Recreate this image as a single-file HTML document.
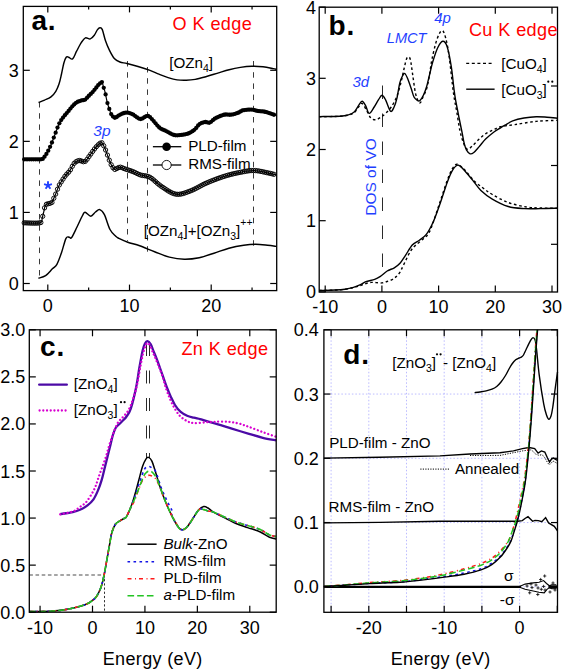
<!DOCTYPE html>
<html><head><meta charset="utf-8"><style>
html,body{margin:0;padding:0;background:#fff;}
svg{display:block;}
text{font-family:"Liberation Sans",sans-serif;}
</style></head><body>
<svg width="562" height="669" viewBox="0 0 562 669">
<rect width="562" height="669" fill="#fff"/>
<line x1="39.5" y1="102" x2="39.5" y2="279" stroke="#3a3a3a" stroke-width="1.0" stroke-dasharray="5.5,5.7" />
<line x1="127.5" y1="61" x2="127.5" y2="241" stroke="#3a3a3a" stroke-width="1.0" stroke-dasharray="5.5,5.7" />
<line x1="147.5" y1="67" x2="147.5" y2="254" stroke="#3a3a3a" stroke-width="1.0" stroke-dasharray="5.5,5.7" />
<line x1="253.5" y1="61" x2="253.5" y2="249" stroke="#3a3a3a" stroke-width="1.0" stroke-dasharray="5.5,5.7" />
<path d="M38.5,102.5 C39.52,102.1 42.52,101.03 44.6,100.1 C46.68,99.17 49.13,98.37 51,96.9 C52.87,95.43 54.47,93.43 55.8,91.3 C57.13,89.17 58.07,86.9 59,84.1 C59.93,81.3 60.6,77.98 61.4,74.5 C62.2,71.02 63,66.08 63.8,63.2 C64.6,60.32 65.4,58.2 66.2,57.2 C67,56.2 67.53,56.92 68.6,57.2 C69.67,57.48 71.27,59.9 72.6,58.9 C73.93,57.9 75.13,53.95 76.6,51.2 C78.07,48.45 79.93,44.62 81.4,42.4 C82.87,40.18 83.92,38.48 85.4,37.9 C86.88,37.32 88.82,39.35 90.3,38.9 C91.78,38.45 93.1,36.75 94.3,35.2 C95.5,33.65 96.57,30.85 97.5,29.6 C98.43,28.35 99.1,27.7 99.9,27.7 C100.7,27.7 101.37,27.42 102.3,29.6 C103.23,31.78 104.3,37.33 105.5,40.8 C106.7,44.27 108.03,47.47 109.5,50.4 C110.97,53.33 112.57,56.47 114.3,58.4 C116.03,60.33 117.78,61.15 119.9,62 C122.02,62.85 123.98,62.75 127,63.5 C130.02,64.25 134.17,65.35 138,66.5 C141.83,67.65 146.5,69.12 150,70.4 C153.5,71.68 155.98,73 159,74.2 C162.02,75.4 165.08,76.65 168.1,77.6 C171.12,78.55 174.08,79.45 177.1,79.9 C180.12,80.35 183.18,80.38 186.2,80.3 C189.22,80.22 191.82,80.03 195.2,79.4 C198.58,78.77 202.73,77.55 206.5,76.5 C210.27,75.45 214.03,74.23 217.8,73.1 C221.57,71.97 225.33,70.65 229.1,69.7 C232.87,68.75 236.63,67.97 240.4,67.4 C244.17,66.83 247.93,66.4 251.7,66.3 C255.47,66.2 259.42,66.42 263,66.8 C266.58,67.18 270.92,68.17 273.2,68.6 C275.48,69.03 276.12,69.27 276.7,69.4" fill="none" stroke="#000" stroke-width="1.45" />
<path d="M23.3,159.3 C26.18,159.3 37.32,159.43 40.6,159.3 C43.88,159.17 41.93,159.57 43,158.5 C44.07,157.43 45.67,155.18 47,152.9 C48.33,150.62 49.67,147.88 51,144.8 C52.33,141.72 53.67,137.87 55,134.4 C56.33,130.93 57.67,126.8 59,124 C60.33,121.2 61.33,119.87 63,117.6 C64.67,115.33 67.4,112.33 69,110.4 C70.6,108.47 71.35,107.32 72.6,106 C73.85,104.68 75.1,103.4 76.5,102.5 C77.9,101.6 79.58,101.07 81,100.6 C82.42,100.13 83.83,100.35 85,99.7 C86.17,99.05 86.75,97.95 88,96.7 C89.25,95.45 91.13,93.7 92.5,92.2 C93.87,90.7 95.2,88.95 96.2,87.7 C97.2,86.45 97.63,85.58 98.5,84.7 C99.37,83.82 100.78,82.75 101.4,82.4 C102.02,82.05 101.82,81.72 102.2,82.6 C102.58,83.48 103.2,86.03 103.7,87.7 C104.2,89.37 104.7,90.55 105.2,92.6 C105.7,94.65 106.2,97.82 106.7,100 C107.2,102.18 107.65,103.88 108.2,105.7 C108.75,107.52 109.45,109.42 110,110.9 C110.55,112.38 110.68,113.45 111.5,114.6 C112.32,115.75 113.55,117.73 114.9,117.8 C116.25,117.87 117.75,115.87 119.6,115 C121.45,114.13 123.87,112.73 126,112.6 C128.13,112.47 130,113.13 132.4,114.2 C134.8,115.27 137.87,118.73 140.4,119 C142.93,119.27 145.47,115.53 147.6,115.8 C149.73,116.07 151.2,118.6 153.2,120.6 C155.2,122.6 157.47,126.07 159.6,127.8 C161.73,129.53 163.6,129.8 166,131 C168.4,132.2 171.6,134.33 174,135 C176.4,135.67 177.98,135.27 180.4,135 C182.82,134.73 186.08,134.33 188.5,133.4 C190.92,132.47 193.08,130.93 194.9,129.4 C196.72,127.87 197.68,125.43 199.4,124.2 C201.12,122.97 203.5,122.25 205.2,122 C206.9,121.75 207.9,123.32 209.6,122.7 C211.3,122.08 212.97,119.63 215.4,118.3 C217.83,116.97 221.52,115.3 224.2,114.7 C226.88,114.1 229.07,115.07 231.5,114.7 C233.93,114.33 236.87,113.23 238.8,112.5 C240.73,111.77 240.92,110.78 243.1,110.3 C245.28,109.82 249.47,109.48 251.9,109.6 C254.33,109.72 255.52,110.63 257.7,111 C259.88,111.37 262.32,111.18 265,111.8 C267.68,112.42 271.85,114.1 273.8,114.7 C275.75,115.3 276.22,115.28 276.7,115.4" fill="none" stroke="#000" stroke-width="1.2" />
<circle cx="24.2" cy="159.3" r="2.15" fill="#000"/>
<circle cx="26.05" cy="159.31" r="2.15" fill="#000"/>
<circle cx="27.9" cy="159.33" r="2.15" fill="#000"/>
<circle cx="29.75" cy="159.34" r="2.15" fill="#000"/>
<circle cx="31.6" cy="159.35" r="2.15" fill="#000"/>
<circle cx="33.45" cy="159.36" r="2.15" fill="#000"/>
<circle cx="35.3" cy="159.36" r="2.15" fill="#000"/>
<circle cx="37.15" cy="159.35" r="2.15" fill="#000"/>
<circle cx="39" cy="159.34" r="2.15" fill="#000"/>
<circle cx="40.85" cy="159.29" r="2.15" fill="#000"/>
<circle cx="42.7" cy="158.89" r="2.15" fill="#000"/>
<circle cx="44.55" cy="156.64" r="2.15" fill="#000"/>
<circle cx="46.4" cy="153.89" r="2.15" fill="#000"/>
<circle cx="48.25" cy="150.63" r="2.15" fill="#000"/>
<circle cx="50.1" cy="146.83" r="2.15" fill="#000"/>
<circle cx="51.95" cy="142.49" r="2.15" fill="#000"/>
<circle cx="53.8" cy="137.59" r="2.15" fill="#000"/>
<circle cx="55.65" cy="132.67" r="2.15" fill="#000"/>
<circle cx="57.5" cy="127.61" r="2.15" fill="#000"/>
<circle cx="59.35" cy="123.28" r="2.15" fill="#000"/>
<circle cx="61.2" cy="120.11" r="2.15" fill="#000"/>
<circle cx="63.05" cy="117.53" r="2.15" fill="#000"/>
<circle cx="64.9" cy="115.2" r="2.15" fill="#000"/>
<circle cx="66.75" cy="113.03" r="2.15" fill="#000"/>
<circle cx="68.6" cy="110.88" r="2.15" fill="#000"/>
<circle cx="70.45" cy="108.59" r="2.15" fill="#000"/>
<circle cx="72.3" cy="106.32" r="2.15" fill="#000"/>
<circle cx="74.15" cy="104.42" r="2.15" fill="#000"/>
<circle cx="76" cy="102.84" r="2.15" fill="#000"/>
<circle cx="77.85" cy="101.77" r="2.15" fill="#000"/>
<circle cx="79.7" cy="101.04" r="2.15" fill="#000"/>
<circle cx="81.55" cy="100.45" r="2.15" fill="#000"/>
<circle cx="83.4" cy="100.18" r="2.15" fill="#000"/>
<circle cx="85.25" cy="99.55" r="2.15" fill="#000"/>
<circle cx="87.1" cy="97.68" r="2.15" fill="#000"/>
<circle cx="88.95" cy="95.77" r="2.15" fill="#000"/>
<circle cx="90.8" cy="93.96" r="2.15" fill="#000"/>
<circle cx="92.65" cy="92.03" r="2.15" fill="#000"/>
<circle cx="94.5" cy="89.84" r="2.15" fill="#000"/>
<circle cx="96.35" cy="87.51" r="2.15" fill="#000"/>
<circle cx="98.2" cy="85.03" r="2.15" fill="#000"/>
<circle cx="100.05" cy="83.35" r="2.15" fill="#000"/>
<circle cx="101.9" cy="82.04" r="2.15" fill="#000"/>
<circle cx="103.75" cy="87.86" r="2.15" fill="#000"/>
<circle cx="105.6" cy="94.44" r="2.15" fill="#000"/>
<circle cx="107.45" cy="103.06" r="2.15" fill="#000"/>
<circle cx="109.3" cy="108.99" r="2.15" fill="#000"/>
<circle cx="111.15" cy="114.04" r="2.15" fill="#000"/>
<circle cx="113" cy="116.61" r="2.15" fill="#000"/>
<circle cx="114.85" cy="117.79" r="2.15" fill="#000"/>
<circle cx="116.7" cy="117.02" r="2.15" fill="#000"/>
<circle cx="118.55" cy="115.62" r="2.15" fill="#000"/>
<circle cx="120.4" cy="114.61" r="2.15" fill="#000"/>
<circle cx="122.25" cy="113.72" r="2.15" fill="#000"/>
<circle cx="124.1" cy="112.99" r="2.15" fill="#000"/>
<circle cx="125.95" cy="112.61" r="2.15" fill="#000"/>
<circle cx="127.8" cy="112.68" r="2.15" fill="#000"/>
<circle cx="129.65" cy="113.11" r="2.15" fill="#000"/>
<circle cx="131.5" cy="113.81" r="2.15" fill="#000"/>
<circle cx="133.35" cy="114.72" r="2.15" fill="#000"/>
<circle cx="135.2" cy="116.03" r="2.15" fill="#000"/>
<circle cx="137.05" cy="117.41" r="2.15" fill="#000"/>
<circle cx="138.9" cy="118.53" r="2.15" fill="#000"/>
<circle cx="140.75" cy="118.99" r="2.15" fill="#000"/>
<circle cx="142.6" cy="118.41" r="2.15" fill="#000"/>
<circle cx="144.45" cy="117.19" r="2.15" fill="#000"/>
<circle cx="146.3" cy="116.06" r="2.15" fill="#000"/>
<circle cx="148.15" cy="115.92" r="2.15" fill="#000"/>
<circle cx="150" cy="117.11" r="2.15" fill="#000"/>
<circle cx="151.85" cy="119.12" r="2.15" fill="#000"/>
<circle cx="153.7" cy="121.12" r="2.15" fill="#000"/>
<circle cx="155.55" cy="123.31" r="2.15" fill="#000"/>
<circle cx="157.4" cy="125.56" r="2.15" fill="#000"/>
<circle cx="159.25" cy="127.49" r="2.15" fill="#000"/>
<circle cx="161.1" cy="128.83" r="2.15" fill="#000"/>
<circle cx="162.95" cy="129.7" r="2.15" fill="#000"/>
<circle cx="164.8" cy="130.45" r="2.15" fill="#000"/>
<circle cx="166.65" cy="131.34" r="2.15" fill="#000"/>
<circle cx="168.5" cy="132.36" r="2.15" fill="#000"/>
<circle cx="170.35" cy="133.39" r="2.15" fill="#000"/>
<circle cx="172.2" cy="134.32" r="2.15" fill="#000"/>
<circle cx="174.05" cy="135.01" r="2.15" fill="#000"/>
<circle cx="175.9" cy="135.33" r="2.15" fill="#000"/>
<circle cx="177.75" cy="135.31" r="2.15" fill="#000"/>
<circle cx="179.6" cy="135.1" r="2.15" fill="#000"/>
<circle cx="181.45" cy="134.88" r="2.15" fill="#000"/>
<circle cx="183.3" cy="134.63" r="2.15" fill="#000"/>
<circle cx="185.15" cy="134.32" r="2.15" fill="#000"/>
<circle cx="187" cy="133.89" r="2.15" fill="#000"/>
<circle cx="188.85" cy="133.26" r="2.15" fill="#000"/>
<circle cx="190.7" cy="132.36" r="2.15" fill="#000"/>
<circle cx="192.55" cy="131.21" r="2.15" fill="#000"/>
<circle cx="194.4" cy="129.81" r="2.15" fill="#000"/>
<circle cx="196.25" cy="127.96" r="2.15" fill="#000"/>
<circle cx="198.1" cy="125.48" r="2.15" fill="#000"/>
<circle cx="199.95" cy="123.84" r="2.15" fill="#000"/>
<circle cx="201.8" cy="122.92" r="2.15" fill="#000"/>
<circle cx="203.65" cy="122.32" r="2.15" fill="#000"/>
<circle cx="205.5" cy="121.98" r="2.15" fill="#000"/>
<circle cx="207.35" cy="122.47" r="2.15" fill="#000"/>
<circle cx="209.2" cy="122.81" r="2.15" fill="#000"/>
<circle cx="211.05" cy="121.8" r="2.15" fill="#000"/>
<circle cx="212.9" cy="120.16" r="2.15" fill="#000"/>
<circle cx="214.75" cy="118.69" r="2.15" fill="#000"/>
<circle cx="216.6" cy="117.67" r="2.15" fill="#000"/>
<circle cx="218.45" cy="116.78" r="2.15" fill="#000"/>
<circle cx="220.3" cy="115.98" r="2.15" fill="#000"/>
<circle cx="222.15" cy="115.29" r="2.15" fill="#000"/>
<circle cx="224" cy="114.75" r="2.15" fill="#000"/>
<circle cx="225.85" cy="114.51" r="2.15" fill="#000"/>
<circle cx="227.7" cy="114.59" r="2.15" fill="#000"/>
<circle cx="229.55" cy="114.76" r="2.15" fill="#000"/>
<circle cx="231.4" cy="114.71" r="2.15" fill="#000"/>
<circle cx="233.25" cy="114.34" r="2.15" fill="#000"/>
<circle cx="235.1" cy="113.81" r="2.15" fill="#000"/>
<circle cx="236.95" cy="113.19" r="2.15" fill="#000"/>
<circle cx="238.8" cy="112.5" r="2.15" fill="#000"/>
<circle cx="240.65" cy="111.45" r="2.15" fill="#000"/>
<circle cx="242.5" cy="110.46" r="2.15" fill="#000"/>
<circle cx="244.35" cy="110.07" r="2.15" fill="#000"/>
<circle cx="246.2" cy="109.84" r="2.15" fill="#000"/>
<circle cx="248.05" cy="109.68" r="2.15" fill="#000"/>
<circle cx="249.9" cy="109.59" r="2.15" fill="#000"/>
<circle cx="251.75" cy="109.6" r="2.15" fill="#000"/>
<circle cx="253.6" cy="109.83" r="2.15" fill="#000"/>
<circle cx="255.45" cy="110.39" r="2.15" fill="#000"/>
<circle cx="257.3" cy="110.92" r="2.15" fill="#000"/>
<circle cx="259.15" cy="111.17" r="2.15" fill="#000"/>
<circle cx="261" cy="111.3" r="2.15" fill="#000"/>
<circle cx="262.85" cy="111.45" r="2.15" fill="#000"/>
<circle cx="264.7" cy="111.74" r="2.15" fill="#000"/>
<circle cx="266.55" cy="112.22" r="2.15" fill="#000"/>
<circle cx="268.4" cy="112.81" r="2.15" fill="#000"/>
<circle cx="270.25" cy="113.46" r="2.15" fill="#000"/>
<circle cx="272.1" cy="114.12" r="2.15" fill="#000"/>
<circle cx="273.95" cy="114.75" r="2.15" fill="#000"/>
<path d="M23.3,222.8 C26.1,222.8 36.95,223.6 40.1,222.8 C43.25,222 41.58,219.87 42.2,218 C42.82,216.13 43.27,213.73 43.8,211.6 C44.33,209.47 44.6,206.53 45.4,205.2 C46.2,203.87 47.53,204.03 48.6,203.6 C49.67,203.17 50.9,203.57 51.8,202.6 C52.7,201.63 53.28,199.4 54,197.8 C54.72,196.2 55.3,194.97 56.1,193 C56.9,191.03 57.82,188.05 58.8,186 C59.78,183.95 60.85,182.48 62,180.7 C63.15,178.92 64.37,177 65.7,175.3 C67.03,173.6 68.58,172.5 70,170.5 C71.42,168.5 72.68,164.97 74.2,163.3 C75.72,161.63 77.35,160.77 79.1,160.5 C80.85,160.23 83.1,162.3 84.7,161.7 C86.3,161.1 87.82,157.98 88.7,156.9 C89.58,155.82 89.17,156.35 90,155.2 C90.83,154.05 92.45,151.62 93.7,150 C94.95,148.38 96.25,146.73 97.5,145.5 C98.75,144.27 100.28,142.77 101.2,142.6 C102.12,142.43 102.37,143.52 103,144.5 C103.63,145.48 104.3,146.85 105,148.5 C105.7,150.15 106.47,152.42 107.2,154.4 C107.93,156.38 108.65,158.52 109.4,160.4 C110.15,162.28 110.82,164.2 111.7,165.7 C112.58,167.2 113.7,169.03 114.7,169.4 C115.7,169.77 116.7,168.27 117.7,167.9 C118.7,167.53 119.58,167.07 120.7,167.2 C121.82,167.33 123.03,168.2 124.4,168.7 C125.77,169.2 127.3,169.65 128.9,170.2 C130.5,170.75 132.07,171.2 134,172 C135.93,172.8 137.83,174.12 140.5,175 C143.17,175.88 146.53,175.42 150,177.3 C153.47,179.18 156.97,183.48 161.3,186.3 C165.63,189.12 171.1,193.45 176,194.2 C180.9,194.95 185.62,192.67 190.7,190.8 C195.78,188.93 200.85,185.43 206.5,183 C212.15,180.57 218.95,177.98 224.6,176.2 C230.25,174.42 235.5,173.25 240.4,172.3 C245.3,171.35 249.48,170.42 254,170.5 C258.52,170.58 263.72,172.05 267.5,172.8 C271.28,173.55 275.17,174.63 276.7,175" fill="none" stroke="#000" stroke-width="1.2" />
<circle cx="24.2" cy="222.82" r="2.15" fill="none" stroke="#000" stroke-width="0.95"/>
<circle cx="26.05" cy="222.89" r="2.15" fill="none" stroke="#000" stroke-width="0.95"/>
<circle cx="27.9" cy="222.97" r="2.15" fill="none" stroke="#000" stroke-width="0.95"/>
<circle cx="29.75" cy="223.04" r="2.15" fill="none" stroke="#000" stroke-width="0.95"/>
<circle cx="31.6" cy="223.1" r="2.15" fill="none" stroke="#000" stroke-width="0.95"/>
<circle cx="33.45" cy="223.14" r="2.15" fill="none" stroke="#000" stroke-width="0.95"/>
<circle cx="35.3" cy="223.15" r="2.15" fill="none" stroke="#000" stroke-width="0.95"/>
<circle cx="37.15" cy="223.11" r="2.15" fill="none" stroke="#000" stroke-width="0.95"/>
<circle cx="39" cy="222.98" r="2.15" fill="none" stroke="#000" stroke-width="0.95"/>
<circle cx="40.85" cy="222.54" r="2.15" fill="none" stroke="#000" stroke-width="0.95"/>
<circle cx="42.7" cy="216.26" r="2.15" fill="none" stroke="#000" stroke-width="0.95"/>
<circle cx="44.55" cy="207.86" r="2.15" fill="none" stroke="#000" stroke-width="0.95"/>
<circle cx="46.4" cy="204.26" r="2.15" fill="none" stroke="#000" stroke-width="0.95"/>
<circle cx="48.25" cy="203.72" r="2.15" fill="none" stroke="#000" stroke-width="0.95"/>
<circle cx="50.1" cy="203.32" r="2.15" fill="none" stroke="#000" stroke-width="0.95"/>
<circle cx="51.95" cy="202.42" r="2.15" fill="none" stroke="#000" stroke-width="0.95"/>
<circle cx="53.8" cy="198.27" r="2.15" fill="none" stroke="#000" stroke-width="0.95"/>
<circle cx="55.65" cy="194.08" r="2.15" fill="none" stroke="#000" stroke-width="0.95"/>
<circle cx="57.5" cy="189.21" r="2.15" fill="none" stroke="#000" stroke-width="0.95"/>
<circle cx="59.35" cy="184.93" r="2.15" fill="none" stroke="#000" stroke-width="0.95"/>
<circle cx="61.2" cy="181.92" r="2.15" fill="none" stroke="#000" stroke-width="0.95"/>
<circle cx="63.05" cy="179.08" r="2.15" fill="none" stroke="#000" stroke-width="0.95"/>
<circle cx="64.9" cy="176.36" r="2.15" fill="none" stroke="#000" stroke-width="0.95"/>
<circle cx="66.75" cy="174.1" r="2.15" fill="none" stroke="#000" stroke-width="0.95"/>
<circle cx="68.6" cy="172.2" r="2.15" fill="none" stroke="#000" stroke-width="0.95"/>
<circle cx="70.45" cy="169.8" r="2.15" fill="none" stroke="#000" stroke-width="0.95"/>
<circle cx="72.3" cy="166.31" r="2.15" fill="none" stroke="#000" stroke-width="0.95"/>
<circle cx="74.15" cy="163.36" r="2.15" fill="none" stroke="#000" stroke-width="0.95"/>
<circle cx="76" cy="161.73" r="2.15" fill="none" stroke="#000" stroke-width="0.95"/>
<circle cx="77.85" cy="160.8" r="2.15" fill="none" stroke="#000" stroke-width="0.95"/>
<circle cx="79.7" cy="160.5" r="2.15" fill="none" stroke="#000" stroke-width="0.95"/>
<circle cx="81.55" cy="161.06" r="2.15" fill="none" stroke="#000" stroke-width="0.95"/>
<circle cx="83.4" cy="161.73" r="2.15" fill="none" stroke="#000" stroke-width="0.95"/>
<circle cx="85.25" cy="161.39" r="2.15" fill="none" stroke="#000" stroke-width="0.95"/>
<circle cx="87.1" cy="159.29" r="2.15" fill="none" stroke="#000" stroke-width="0.95"/>
<circle cx="88.95" cy="156.59" r="2.15" fill="none" stroke="#000" stroke-width="0.95"/>
<circle cx="90.8" cy="154.06" r="2.15" fill="none" stroke="#000" stroke-width="0.95"/>
<circle cx="92.65" cy="151.42" r="2.15" fill="none" stroke="#000" stroke-width="0.95"/>
<circle cx="94.5" cy="148.97" r="2.15" fill="none" stroke="#000" stroke-width="0.95"/>
<circle cx="96.35" cy="146.73" r="2.15" fill="none" stroke="#000" stroke-width="0.95"/>
<circle cx="98.2" cy="144.82" r="2.15" fill="none" stroke="#000" stroke-width="0.95"/>
<circle cx="100.05" cy="143.2" r="2.15" fill="none" stroke="#000" stroke-width="0.95"/>
<circle cx="101.9" cy="142.78" r="2.15" fill="none" stroke="#000" stroke-width="0.95"/>
<circle cx="103.75" cy="145.81" r="2.15" fill="none" stroke="#000" stroke-width="0.95"/>
<circle cx="105.6" cy="150.01" r="2.15" fill="none" stroke="#000" stroke-width="0.95"/>
<circle cx="107.45" cy="155.08" r="2.15" fill="none" stroke="#000" stroke-width="0.95"/>
<circle cx="109.3" cy="160.15" r="2.15" fill="none" stroke="#000" stroke-width="0.95"/>
<circle cx="111.15" cy="164.66" r="2.15" fill="none" stroke="#000" stroke-width="0.95"/>
<circle cx="113" cy="167.76" r="2.15" fill="none" stroke="#000" stroke-width="0.95"/>
<circle cx="114.85" cy="169.43" r="2.15" fill="none" stroke="#000" stroke-width="0.95"/>
<circle cx="116.7" cy="168.53" r="2.15" fill="none" stroke="#000" stroke-width="0.95"/>
<circle cx="118.55" cy="167.57" r="2.15" fill="none" stroke="#000" stroke-width="0.95"/>
<circle cx="120.4" cy="167.18" r="2.15" fill="none" stroke="#000" stroke-width="0.95"/>
<circle cx="122.25" cy="167.72" r="2.15" fill="none" stroke="#000" stroke-width="0.95"/>
<circle cx="124.1" cy="168.58" r="2.15" fill="none" stroke="#000" stroke-width="0.95"/>
<circle cx="125.95" cy="169.23" r="2.15" fill="none" stroke="#000" stroke-width="0.95"/>
<circle cx="127.8" cy="169.83" r="2.15" fill="none" stroke="#000" stroke-width="0.95"/>
<circle cx="129.65" cy="170.45" r="2.15" fill="none" stroke="#000" stroke-width="0.95"/>
<circle cx="131.5" cy="171.07" r="2.15" fill="none" stroke="#000" stroke-width="0.95"/>
<circle cx="133.35" cy="171.74" r="2.15" fill="none" stroke="#000" stroke-width="0.95"/>
<circle cx="135.2" cy="172.55" r="2.15" fill="none" stroke="#000" stroke-width="0.95"/>
<circle cx="137.05" cy="173.51" r="2.15" fill="none" stroke="#000" stroke-width="0.95"/>
<circle cx="138.9" cy="174.39" r="2.15" fill="none" stroke="#000" stroke-width="0.95"/>
<circle cx="140.75" cy="175.07" r="2.15" fill="none" stroke="#000" stroke-width="0.95"/>
<circle cx="142.6" cy="175.46" r="2.15" fill="none" stroke="#000" stroke-width="0.95"/>
<circle cx="144.45" cy="175.71" r="2.15" fill="none" stroke="#000" stroke-width="0.95"/>
<circle cx="146.3" cy="176.01" r="2.15" fill="none" stroke="#000" stroke-width="0.95"/>
<circle cx="148.15" cy="176.5" r="2.15" fill="none" stroke="#000" stroke-width="0.95"/>
<circle cx="150" cy="177.3" r="2.15" fill="none" stroke="#000" stroke-width="0.95"/>
<circle cx="151.85" cy="178.51" r="2.15" fill="none" stroke="#000" stroke-width="0.95"/>
<circle cx="153.7" cy="180.01" r="2.15" fill="none" stroke="#000" stroke-width="0.95"/>
<circle cx="155.55" cy="181.65" r="2.15" fill="none" stroke="#000" stroke-width="0.95"/>
<circle cx="157.4" cy="183.29" r="2.15" fill="none" stroke="#000" stroke-width="0.95"/>
<circle cx="159.25" cy="184.82" r="2.15" fill="none" stroke="#000" stroke-width="0.95"/>
<circle cx="161.1" cy="186.16" r="2.15" fill="none" stroke="#000" stroke-width="0.95"/>
<circle cx="162.95" cy="187.4" r="2.15" fill="none" stroke="#000" stroke-width="0.95"/>
<circle cx="164.8" cy="188.66" r="2.15" fill="none" stroke="#000" stroke-width="0.95"/>
<circle cx="166.65" cy="189.89" r="2.15" fill="none" stroke="#000" stroke-width="0.95"/>
<circle cx="168.5" cy="191.06" r="2.15" fill="none" stroke="#000" stroke-width="0.95"/>
<circle cx="170.35" cy="192.11" r="2.15" fill="none" stroke="#000" stroke-width="0.95"/>
<circle cx="172.2" cy="193.02" r="2.15" fill="none" stroke="#000" stroke-width="0.95"/>
<circle cx="174.05" cy="193.72" r="2.15" fill="none" stroke="#000" stroke-width="0.95"/>
<circle cx="175.9" cy="194.18" r="2.15" fill="none" stroke="#000" stroke-width="0.95"/>
<circle cx="177.75" cy="194.33" r="2.15" fill="none" stroke="#000" stroke-width="0.95"/>
<circle cx="179.6" cy="194.25" r="2.15" fill="none" stroke="#000" stroke-width="0.95"/>
<circle cx="181.45" cy="193.94" r="2.15" fill="none" stroke="#000" stroke-width="0.95"/>
<circle cx="183.3" cy="193.48" r="2.15" fill="none" stroke="#000" stroke-width="0.95"/>
<circle cx="185.15" cy="192.87" r="2.15" fill="none" stroke="#000" stroke-width="0.95"/>
<circle cx="187" cy="192.2" r="2.15" fill="none" stroke="#000" stroke-width="0.95"/>
<circle cx="188.85" cy="191.5" r="2.15" fill="none" stroke="#000" stroke-width="0.95"/>
<circle cx="190.7" cy="190.8" r="2.15" fill="none" stroke="#000" stroke-width="0.95"/>
<circle cx="192.55" cy="190.05" r="2.15" fill="none" stroke="#000" stroke-width="0.95"/>
<circle cx="194.4" cy="189.19" r="2.15" fill="none" stroke="#000" stroke-width="0.95"/>
<circle cx="196.25" cy="188.25" r="2.15" fill="none" stroke="#000" stroke-width="0.95"/>
<circle cx="198.1" cy="187.27" r="2.15" fill="none" stroke="#000" stroke-width="0.95"/>
<circle cx="199.95" cy="186.27" r="2.15" fill="none" stroke="#000" stroke-width="0.95"/>
<circle cx="201.8" cy="185.28" r="2.15" fill="none" stroke="#000" stroke-width="0.95"/>
<circle cx="203.65" cy="184.33" r="2.15" fill="none" stroke="#000" stroke-width="0.95"/>
<circle cx="205.5" cy="183.45" r="2.15" fill="none" stroke="#000" stroke-width="0.95"/>
<circle cx="207.35" cy="182.64" r="2.15" fill="none" stroke="#000" stroke-width="0.95"/>
<circle cx="209.2" cy="181.86" r="2.15" fill="none" stroke="#000" stroke-width="0.95"/>
<circle cx="211.05" cy="181.11" r="2.15" fill="none" stroke="#000" stroke-width="0.95"/>
<circle cx="212.9" cy="180.38" r="2.15" fill="none" stroke="#000" stroke-width="0.95"/>
<circle cx="214.75" cy="179.66" r="2.15" fill="none" stroke="#000" stroke-width="0.95"/>
<circle cx="216.6" cy="178.97" r="2.15" fill="none" stroke="#000" stroke-width="0.95"/>
<circle cx="218.45" cy="178.29" r="2.15" fill="none" stroke="#000" stroke-width="0.95"/>
<circle cx="220.3" cy="177.63" r="2.15" fill="none" stroke="#000" stroke-width="0.95"/>
<circle cx="222.15" cy="177" r="2.15" fill="none" stroke="#000" stroke-width="0.95"/>
<circle cx="224" cy="176.39" r="2.15" fill="none" stroke="#000" stroke-width="0.95"/>
<circle cx="225.85" cy="175.81" r="2.15" fill="none" stroke="#000" stroke-width="0.95"/>
<circle cx="227.7" cy="175.27" r="2.15" fill="none" stroke="#000" stroke-width="0.95"/>
<circle cx="229.55" cy="174.76" r="2.15" fill="none" stroke="#000" stroke-width="0.95"/>
<circle cx="231.4" cy="174.28" r="2.15" fill="none" stroke="#000" stroke-width="0.95"/>
<circle cx="233.25" cy="173.83" r="2.15" fill="none" stroke="#000" stroke-width="0.95"/>
<circle cx="235.1" cy="173.4" r="2.15" fill="none" stroke="#000" stroke-width="0.95"/>
<circle cx="236.95" cy="173" r="2.15" fill="none" stroke="#000" stroke-width="0.95"/>
<circle cx="238.8" cy="172.62" r="2.15" fill="none" stroke="#000" stroke-width="0.95"/>
<circle cx="240.65" cy="172.25" r="2.15" fill="none" stroke="#000" stroke-width="0.95"/>
<circle cx="242.5" cy="171.89" r="2.15" fill="none" stroke="#000" stroke-width="0.95"/>
<circle cx="244.35" cy="171.53" r="2.15" fill="none" stroke="#000" stroke-width="0.95"/>
<circle cx="246.2" cy="171.2" r="2.15" fill="none" stroke="#000" stroke-width="0.95"/>
<circle cx="248.05" cy="170.91" r="2.15" fill="none" stroke="#000" stroke-width="0.95"/>
<circle cx="249.9" cy="170.69" r="2.15" fill="none" stroke="#000" stroke-width="0.95"/>
<circle cx="251.75" cy="170.54" r="2.15" fill="none" stroke="#000" stroke-width="0.95"/>
<circle cx="253.6" cy="170.5" r="2.15" fill="none" stroke="#000" stroke-width="0.95"/>
<circle cx="255.45" cy="170.57" r="2.15" fill="none" stroke="#000" stroke-width="0.95"/>
<circle cx="257.3" cy="170.77" r="2.15" fill="none" stroke="#000" stroke-width="0.95"/>
<circle cx="259.15" cy="171.05" r="2.15" fill="none" stroke="#000" stroke-width="0.95"/>
<circle cx="261" cy="171.4" r="2.15" fill="none" stroke="#000" stroke-width="0.95"/>
<circle cx="262.85" cy="171.79" r="2.15" fill="none" stroke="#000" stroke-width="0.95"/>
<circle cx="264.7" cy="172.2" r="2.15" fill="none" stroke="#000" stroke-width="0.95"/>
<circle cx="266.55" cy="172.6" r="2.15" fill="none" stroke="#000" stroke-width="0.95"/>
<circle cx="268.4" cy="172.98" r="2.15" fill="none" stroke="#000" stroke-width="0.95"/>
<circle cx="270.25" cy="173.39" r="2.15" fill="none" stroke="#000" stroke-width="0.95"/>
<circle cx="272.1" cy="173.83" r="2.15" fill="none" stroke="#000" stroke-width="0.95"/>
<circle cx="273.95" cy="174.3" r="2.15" fill="none" stroke="#000" stroke-width="0.95"/>
<path d="M38.4,278.3 C39.6,277.85 43.27,277.18 45.6,275.6 C47.93,274.02 50.52,270.68 52.4,268.8 C54.28,266.92 55.4,266.93 56.9,264.3 C58.4,261.67 59.88,257.33 61.4,253 C62.92,248.67 64.68,240.93 66,238.3 C67.32,235.67 68.37,237.32 69.3,237.2 C70.23,237.08 70.32,239.3 71.6,237.6 C72.88,235.9 75.18,230.68 77,227 C78.82,223.32 81.15,217.95 82.5,215.5 C83.85,213.05 83.72,212.18 85.1,212.3 C86.48,212.42 89.07,216.25 90.8,216.2 C92.53,216.15 94,213.1 95.5,212 C97,210.9 98.32,209.17 99.8,209.6 C101.28,210.03 102.7,211.28 104.4,214.6 C106.1,217.92 108.12,225.9 110,229.5 C111.88,233.1 114.22,234.72 115.7,236.2 C117.18,237.68 116.88,237.4 118.9,238.4 C120.92,239.4 124.33,240.97 127.8,242.2 C131.27,243.43 135.23,244.22 139.7,245.8 C144.17,247.38 149.65,249.82 154.6,251.7 C159.55,253.58 164.45,255.85 169.4,257.1 C174.35,258.35 179.33,259.1 184.3,259.2 C189.27,259.3 194.25,258.7 199.2,257.7 C204.15,256.7 209.05,254.78 214,253.2 C218.95,251.62 223.95,249.53 228.9,248.2 C233.85,246.87 239.25,245.85 243.7,245.2 C248.15,244.55 251.63,244.3 255.6,244.3 C259.57,244.3 263.98,244.85 267.5,245.2 C271.02,245.55 275.17,246.2 276.7,246.4" fill="none" stroke="#000" stroke-width="1.45" />
<rect x="23.3" y="6.4" width="253.4" height="284.2" fill="none" stroke="#000" stroke-width="1.3"/>
<line x1="47.8" y1="290.6" x2="47.8" y2="284.6" stroke="#000" stroke-width="1.2" />
<line x1="47.8" y1="6.4" x2="47.8" y2="12.4" stroke="#000" stroke-width="1.2" />
<line x1="129.5" y1="290.6" x2="129.5" y2="284.6" stroke="#000" stroke-width="1.2" />
<line x1="129.5" y1="6.4" x2="129.5" y2="12.4" stroke="#000" stroke-width="1.2" />
<line x1="211.2" y1="290.6" x2="211.2" y2="284.6" stroke="#000" stroke-width="1.2" />
<line x1="211.2" y1="6.4" x2="211.2" y2="12.4" stroke="#000" stroke-width="1.2" />
<line x1="88.65" y1="290.6" x2="88.65" y2="287.6" stroke="#000" stroke-width="1.2" />
<line x1="88.65" y1="6.4" x2="88.65" y2="9.4" stroke="#000" stroke-width="1.2" />
<line x1="170.35" y1="290.6" x2="170.35" y2="287.6" stroke="#000" stroke-width="1.2" />
<line x1="170.35" y1="6.4" x2="170.35" y2="9.4" stroke="#000" stroke-width="1.2" />
<line x1="252.05" y1="290.6" x2="252.05" y2="287.6" stroke="#000" stroke-width="1.2" />
<line x1="252.05" y1="6.4" x2="252.05" y2="9.4" stroke="#000" stroke-width="1.2" />
<line x1="23.3" y1="283.5" x2="29.8" y2="283.5" stroke="#000" stroke-width="1.2" />
<line x1="276.7" y1="283.5" x2="270.2" y2="283.5" stroke="#000" stroke-width="1.2" />
<text x="18.8" y="290" font-size="18" text-anchor="end" fill="#000" font-weight="normal" font-style="normal" >0</text>
<line x1="23.3" y1="212.43" x2="29.8" y2="212.43" stroke="#000" stroke-width="1.2" />
<line x1="276.7" y1="212.43" x2="270.2" y2="212.43" stroke="#000" stroke-width="1.2" />
<text x="18.8" y="218.93" font-size="18" text-anchor="end" fill="#000" font-weight="normal" font-style="normal" >1</text>
<line x1="23.3" y1="141.36" x2="29.8" y2="141.36" stroke="#000" stroke-width="1.2" />
<line x1="276.7" y1="141.36" x2="270.2" y2="141.36" stroke="#000" stroke-width="1.2" />
<text x="18.8" y="147.86" font-size="18" text-anchor="end" fill="#000" font-weight="normal" font-style="normal" >2</text>
<line x1="23.3" y1="70.29" x2="29.8" y2="70.29" stroke="#000" stroke-width="1.2" />
<line x1="276.7" y1="70.29" x2="270.2" y2="70.29" stroke="#000" stroke-width="1.2" />
<text x="18.8" y="76.79" font-size="18" text-anchor="end" fill="#000" font-weight="normal" font-style="normal" >3</text>
<text x="47.8" y="311.5" font-size="18" text-anchor="middle" fill="#000" font-weight="normal" font-style="normal" >0</text>
<text x="129.5" y="311.5" font-size="18" text-anchor="middle" fill="#000" font-weight="normal" font-style="normal" >10</text>
<text x="211.2" y="311.5" font-size="18" text-anchor="middle" fill="#000" font-weight="normal" font-style="normal" >20</text>
<text x="31.5" y="30.4" font-size="28" text-anchor="start" fill="#000" font-weight="bold" font-style="normal" letter-spacing="0.8">a.</text>
<text x="172.6" y="29.7" font-size="18.1" text-anchor="start" fill="#ff0000" font-weight="normal" font-style="normal" letter-spacing="0.4">O K edge</text>
<text x="169.2" y="67.5" font-size="15.2" text-anchor="start" fill="#000" font-weight="normal" font-style="normal" >[OZn<tspan font-size="10.5" dy="4">4</tspan><tspan dy="-4">]</tspan></text>
<text x="143.8" y="235.9" font-size="15.2" text-anchor="start" fill="#000" font-weight="normal" font-style="normal" >[OZn<tspan font-size="10.5" dy="4">4</tspan><tspan dy="-4">]+[OZn</tspan><tspan font-size="10.5" dy="4">3</tspan><tspan dy="-4">]</tspan><tspan font-size="10.5" dy="-10">++</tspan></text>
<text x="93.3" y="136.2" font-size="15.5" text-anchor="start" fill="#1f3fff" font-weight="normal" font-style="italic" >3p</text>
<g stroke="#1f3fff" stroke-width="1.9" stroke-linecap="butt"><line x1="48" y1="185.4" x2="48.00" y2="181.30"/><line x1="48" y1="185.4" x2="51.90" y2="184.13"/><line x1="48" y1="185.4" x2="50.41" y2="188.72"/><line x1="48" y1="185.4" x2="45.59" y2="188.72"/><line x1="48" y1="185.4" x2="44.10" y2="184.13"/></g>
<line x1="152.9" y1="146.7" x2="181.3" y2="146.7" stroke="#000" stroke-width="1.3" />
<circle cx="166.6" cy="146.7" r="4.3" fill="#000"/>
<text x="188.2" y="150.7" font-size="15.2" text-anchor="start" fill="#000" font-weight="normal" font-style="normal" >PLD-film</text>
<line x1="152.9" y1="165" x2="181.3" y2="165" stroke="#000" stroke-width="1.3" />
<circle cx="166.6" cy="165" r="4.6" fill="#fff" stroke="#000" stroke-width="0.9"/>
<text x="188.2" y="168.9" font-size="15.2" text-anchor="start" fill="#000" font-weight="normal" font-style="normal" >RMS-film</text>
<line x1="382.5" y1="85.5" x2="382.5" y2="268" stroke="#2a2a2a" stroke-width="1.0" stroke-dasharray="13.5,14.5" />
<path d="M319.2,116.6 C322.67,116.53 335.12,116.5 340,116.2 C344.88,115.9 346.13,115.5 348.5,114.8 C350.87,114.1 352.53,113.53 354.2,112 C355.87,110.47 357.18,107.38 358.5,105.6 C359.82,103.82 360.92,101.3 362.1,101.3 C363.28,101.3 364.42,103.58 365.6,105.6 C366.78,107.62 367.77,113.17 369.2,113.4 C370.63,113.63 372.67,109.25 374.2,107 C375.73,104.75 377.1,101.85 378.4,99.9 C379.7,97.95 380.8,95.3 382,95.3 C383.2,95.3 384.18,97.25 385.6,99.9 C387.02,102.55 389.08,110.02 390.5,111.2 C391.92,112.38 393.03,109.13 394.1,107 C395.17,104.87 395.95,102.43 396.9,98.4 C397.85,94.37 398.85,86.58 399.8,82.8 C400.75,79.02 401.77,77.25 402.6,75.7 C403.43,74.15 403.97,73.03 404.8,73.5 C405.63,73.97 406.53,76 407.6,78.5 C408.67,81 410.13,85.42 411.2,88.5 C412.27,91.58 412.93,94.98 414,97 C415.07,99.02 416.6,100.02 417.6,100.6 C418.6,101.18 419.02,101.43 420,100.5 C420.98,99.57 422.4,97.3 423.5,95 C424.6,92.7 425.6,90.03 426.6,86.7 C427.6,83.37 428.48,79.12 429.5,75 C430.52,70.88 431.33,66.55 432.7,62 C434.07,57.45 436.03,51.15 437.7,47.7 C439.37,44.25 441.15,41.53 442.7,41.3 C444.25,41.07 445.58,42.15 447,46.3 C448.42,50.45 450.02,58.92 451.2,66.2 C452.38,73.48 453.35,84.25 454.1,90 C454.85,95.75 455.08,97.13 455.7,100.7 C456.32,104.27 457.1,107.85 457.8,111.4 C458.5,114.95 459.18,118.45 459.9,122 C460.62,125.55 461.38,129.13 462.1,132.7 C462.82,136.27 463.48,140.55 464.2,143.4 C464.92,146.25 465.42,148.07 466.4,149.8 C467.38,151.53 468.87,153.35 470.1,153.8 C471.33,154.25 472.28,153.7 473.8,152.5 C475.32,151.3 477.23,148.83 479.2,146.6 C481.17,144.37 483.3,141.42 485.6,139.1 C487.9,136.78 490.52,134.57 493,132.7 C495.48,130.83 498.5,129.15 500.5,127.9 C502.5,126.65 502.97,126.37 505,125.2 C507.03,124.03 509.53,122.1 512.7,120.9 C515.87,119.7 520.08,118.7 524,118 C527.92,117.3 532.37,116.83 536.2,116.7 C540.03,116.57 543.45,116.95 547,117.2 C550.55,117.45 555.75,118.03 557.5,118.2" fill="none" stroke="#000" stroke-width="1.4" />
<path d="M319.2,116.8 C322.67,116.72 335.12,116.6 340,116.3 C344.88,116 346.13,115.6 348.5,115 C350.87,114.4 352.53,114.03 354.2,112.7 C355.87,111.37 357.18,108.55 358.5,107 C359.82,105.45 360.8,102.93 362.1,103.4 C363.4,103.87 364.88,107.42 366.3,109.8 C367.72,112.18 369.05,116.03 370.6,117.7 C372.15,119.37 373.82,119.93 375.6,119.8 C377.38,119.67 379.63,117.97 381.3,116.9 C382.97,115.83 383.95,115.05 385.6,113.4 C387.25,111.75 389.32,109.85 391.2,107 C393.08,104.15 395.23,100.57 396.9,96.3 C398.57,92.03 400,86.03 401.2,81.4 C402.4,76.77 403.22,72.23 404.1,68.5 C404.98,64.77 405.77,60.92 406.5,59 C407.23,57.08 407.83,56.83 408.5,57 C409.17,57.17 409.82,57.13 410.5,60 C411.18,62.87 411.78,68.75 412.6,74.2 C413.42,79.65 414.45,88.18 415.4,92.7 C416.35,97.22 417.45,99.67 418.3,101.3 C419.15,102.93 419.72,103.22 420.5,102.5 C421.28,101.78 421.98,99.28 423,97 C424.02,94.72 425.52,92.47 426.6,88.8 C427.68,85.13 428.6,79.95 429.5,75 C430.4,70.05 430.75,65.07 432,59.1 C433.25,53.13 435.33,43.95 437,39.2 C438.67,34.45 440.57,30.85 442,30.6 C443.43,30.35 444.42,33.43 445.6,37.7 C446.78,41.97 447.78,46.95 449.1,56.2 C450.42,65.45 452.23,84 453.5,93.2 C454.77,102.4 455.63,105.17 456.7,111.4 C457.77,117.63 458.73,125.27 459.9,130.6 C461.07,135.93 462.45,140.28 463.7,143.4 C464.95,146.52 465.88,148.95 467.4,149.3 C468.92,149.65 470.83,147.2 472.8,145.5 C474.77,143.8 477.07,141.05 479.2,139.1 C481.33,137.15 483.3,135.32 485.6,133.8 C487.9,132.28 490.52,131.17 493,130 C495.48,128.83 496.87,127.7 500.5,126.8 C504.13,125.9 508.85,125.5 514.8,124.6 C520.75,123.7 529.08,122.12 536.2,121.4 C543.32,120.68 553.95,120.48 557.5,120.3" fill="none" stroke="#000" stroke-width="1.4" stroke-dasharray="2.6,2.6" />
<path d="M319.2,290.4 C321.83,290.33 330.7,290.2 335,290 C339.3,289.8 341.93,289.63 345,289.2 C348.07,288.77 350.82,288.15 353.4,287.4 C355.98,286.65 358.43,285.65 360.5,284.7 C362.57,283.75 363.43,282.58 365.8,281.7 C368.17,280.82 372.33,280.23 374.7,279.4 C377.07,278.57 377.92,278.1 380,276.7 C382.08,275.3 384.82,272.48 387.2,271 C389.58,269.52 392.17,269.08 394.3,267.8 C396.43,266.52 398.13,265.38 400,263.3 C401.87,261.22 403.42,258.38 405.5,255.3 C407.58,252.22 410.18,247.32 412.5,244.8 C414.82,242.28 417.1,241.93 419.4,240.2 C421.7,238.47 423.98,237.48 426.3,234.4 C428.62,231.32 430.98,226.9 433.3,221.7 C435.62,216.5 437.88,209.75 440.2,203.2 C442.52,196.65 445.08,187.98 447.2,182.4 C449.32,176.82 451.02,172.57 452.9,169.7 C454.78,166.83 456.37,164.82 458.5,165.2 C460.63,165.58 463.35,169.52 465.7,172 C468.05,174.48 470.07,177.02 472.6,180.1 C475.13,183.18 477.62,187.33 480.9,190.5 C484.18,193.67 487.75,196.43 492.3,199.1 C496.85,201.77 502.9,204.92 508.2,206.5 C513.5,208.08 518.8,208.25 524.1,208.6 C529.4,208.95 534.43,208.67 540,208.6 C545.57,208.53 554.58,208.27 557.5,208.2" fill="none" stroke="#000" stroke-width="1.4" />
<path d="M319.2,290.5 C321.83,290.43 330.7,290.3 335,290.1 C339.3,289.9 341.93,289.72 345,289.3 C348.07,288.88 350.82,288.22 353.4,287.6 C355.98,286.98 358.4,286.28 360.5,285.6 C362.6,284.92 364.22,284.03 366,283.5 C367.78,282.97 369.53,282.55 371.2,282.4 C372.87,282.25 374.22,282.52 376,282.6 C377.78,282.68 380.07,283.08 381.9,282.9 C383.73,282.72 385.23,282.08 387,281.5 C388.77,280.92 390.95,280.23 392.5,279.4 C394.05,278.57 395.05,277.7 396.3,276.5 C397.55,275.3 398.85,274 400,272.2 C401.15,270.4 401.52,269.1 403.2,265.7 C404.88,262.3 408.17,255.08 410.1,251.8 C412.03,248.52 412.87,247.93 414.8,246 C416.73,244.07 419.38,242.32 421.7,240.2 C424.02,238.08 426.65,236.67 428.7,233.3 C430.75,229.93 432.08,225.3 434,220 C435.92,214.7 438,208.08 440.2,201.5 C442.4,194.92 445.15,186 447.2,180.5 C449.25,175 450.77,171.2 452.5,168.5 C454.23,165.8 455.4,163.88 457.6,164.3 C459.8,164.72 462.95,168.23 465.7,171 C468.45,173.77 471.22,178.07 474.1,180.9 C476.98,183.73 479.97,185.73 483,188 C486.03,190.27 488.1,192.08 492.3,194.5 C496.5,196.92 502.52,200.42 508.2,202.5 C513.88,204.58 521.1,206.08 526.4,207 C531.7,207.92 534.82,207.8 540,208 C545.18,208.2 554.58,208.17 557.5,208.2" fill="none" stroke="#000" stroke-width="1.4" stroke-dasharray="2.6,2.6" />
<rect x="319.2" y="7.2" width="238.3" height="284.8" fill="none" stroke="#000" stroke-width="1.3"/>
<line x1="325.2" y1="292" x2="325.2" y2="285.5" stroke="#000" stroke-width="1.2" />
<line x1="325.2" y1="7.2" x2="325.2" y2="13.7" stroke="#000" stroke-width="1.2" />
<line x1="381.9" y1="292" x2="381.9" y2="285.5" stroke="#000" stroke-width="1.2" />
<line x1="381.9" y1="7.2" x2="381.9" y2="13.7" stroke="#000" stroke-width="1.2" />
<line x1="438.6" y1="292" x2="438.6" y2="285.5" stroke="#000" stroke-width="1.2" />
<line x1="438.6" y1="7.2" x2="438.6" y2="13.7" stroke="#000" stroke-width="1.2" />
<line x1="495.3" y1="292" x2="495.3" y2="285.5" stroke="#000" stroke-width="1.2" />
<line x1="495.3" y1="7.2" x2="495.3" y2="13.7" stroke="#000" stroke-width="1.2" />
<line x1="552" y1="292" x2="552" y2="285.5" stroke="#000" stroke-width="1.2" />
<line x1="552" y1="7.2" x2="552" y2="13.7" stroke="#000" stroke-width="1.2" />
<line x1="319.2" y1="291.9" x2="325.7" y2="291.9" stroke="#000" stroke-width="1.2" />
<text x="316" y="298.4" font-size="18" text-anchor="end" fill="#000" font-weight="normal" font-style="normal" >0</text>
<line x1="319.2" y1="220.7" x2="325.7" y2="220.7" stroke="#000" stroke-width="1.2" />
<text x="316" y="227.2" font-size="18" text-anchor="end" fill="#000" font-weight="normal" font-style="normal" >1</text>
<line x1="319.2" y1="149.5" x2="325.7" y2="149.5" stroke="#000" stroke-width="1.2" />
<text x="316" y="156" font-size="18" text-anchor="end" fill="#000" font-weight="normal" font-style="normal" >2</text>
<line x1="319.2" y1="78.3" x2="325.7" y2="78.3" stroke="#000" stroke-width="1.2" />
<text x="316" y="84.8" font-size="18" text-anchor="end" fill="#000" font-weight="normal" font-style="normal" >3</text>
<line x1="319.2" y1="7.1" x2="325.7" y2="7.1" stroke="#000" stroke-width="1.2" />
<text x="316" y="13.6" font-size="18" text-anchor="end" fill="#000" font-weight="normal" font-style="normal" >4</text>
<line x1="557.5" y1="86" x2="551" y2="86" stroke="#000" stroke-width="1.2" />
<line x1="557.5" y1="165.5" x2="551" y2="165.5" stroke="#000" stroke-width="1.2" />
<line x1="557.5" y1="244.3" x2="551" y2="244.3" stroke="#000" stroke-width="1.2" />
<text x="325.2" y="312.6" font-size="18" text-anchor="middle" fill="#000" font-weight="normal" font-style="normal" >-10</text>
<text x="381.9" y="312.6" font-size="18" text-anchor="middle" fill="#000" font-weight="normal" font-style="normal" >0</text>
<text x="438.6" y="312.6" font-size="18" text-anchor="middle" fill="#000" font-weight="normal" font-style="normal" >10</text>
<text x="495.3" y="312.6" font-size="18" text-anchor="middle" fill="#000" font-weight="normal" font-style="normal" >20</text>
<text x="552" y="312.6" font-size="18" text-anchor="middle" fill="#000" font-weight="normal" font-style="normal" >30</text>
<text x="328.5" y="35.3" font-size="28" text-anchor="start" fill="#000" font-weight="bold" font-style="normal" letter-spacing="0.8">b.</text>
<text x="468.9" y="35.9" font-size="18.1" text-anchor="start" fill="#ff0000" font-weight="normal" font-style="normal" letter-spacing="0.4">Cu K edge</text>
<text x="352.5" y="87" font-size="15" text-anchor="start" fill="#1f3fff" font-weight="normal" font-style="italic" >3d</text>
<text x="386.8" y="43.2" font-size="14.6" text-anchor="start" fill="#1f3fff" font-weight="normal" font-style="italic" >LMCT</text>
<text x="434.2" y="22.8" font-size="15" text-anchor="start" fill="#1f3fff" font-weight="normal" font-style="italic" >4p</text>
<text x="0" y="0" font-size="15.5" text-anchor="start" fill="#1f3fff" font-weight="normal" font-style="normal" transform="translate(376.4,215.8) rotate(-90)">DOS of VO</text>
<line x1="466.2" y1="63.4" x2="492.4" y2="63.4" stroke="#000" stroke-width="1.4" stroke-dasharray="3,2.6" />
<text x="501.3" y="68.8" font-size="15.2" text-anchor="start" fill="#000" font-weight="normal" font-style="normal" >[CuO<tspan font-size="10.5" dy="4">4</tspan><tspan dy="-4">]</tspan></text>
<line x1="466.2" y1="89.2" x2="494.6" y2="89.2" stroke="#000" stroke-width="1.4" />
<text x="501.3" y="94.5" font-size="15.2" text-anchor="start" fill="#000" font-weight="normal" font-style="normal" >[CuO<tspan font-size="10.5" dy="4">3</tspan><tspan dy="-4">]</tspan></text>
<circle cx="548.3" cy="81.7" r="1.1" fill="#000"/><circle cx="552.3" cy="81.7" r="1.1" fill="#000"/>
<line x1="29.3" y1="574.9" x2="104.5" y2="574.9" stroke="#888" stroke-width="1.5" stroke-dasharray="3.6,2.6" />
<line x1="104.5" y1="574.9" x2="104.5" y2="612.2" stroke="#333" stroke-width="1.0" stroke-dasharray="2.2,2" />
<line x1="146.5" y1="343" x2="146.5" y2="458" stroke="#2a2a2a" stroke-width="1.0" stroke-dasharray="13,14.5" />
<line x1="149.5" y1="343" x2="149.5" y2="458" stroke="#2a2a2a" stroke-width="1.0" stroke-dasharray="13,14.5" />
<path d="M60.2,514.1 C62.3,513.77 69.5,512.82 72.8,512.1 C76.1,511.38 77.55,510.93 80,509.8 C82.45,508.67 85.25,507.05 87.5,505.3 C89.75,503.55 91.75,501.78 93.5,499.3 C95.25,496.82 96.63,493.63 98,490.4 C99.37,487.17 100.58,483.65 101.7,479.9 C102.82,476.15 103.7,471.9 104.7,467.9 C105.7,463.9 106.7,459.9 107.7,455.9 C108.7,451.9 109.83,447.38 110.7,443.9 C111.57,440.42 112.03,437.73 112.9,435 C113.77,432.27 114.77,429.38 115.9,427.5 C117.03,425.62 118.45,424.95 119.7,423.7 C120.95,422.45 122.27,421.2 123.4,420 C124.53,418.8 125.27,418.38 126.5,416.5 C127.73,414.62 129.18,413.62 130.8,408.7 C132.42,403.78 134.77,393.87 136.2,387 C137.63,380.13 138.32,373.63 139.4,367.5 C140.48,361.37 141.77,354.2 142.7,350.2 C143.63,346.2 144.22,345.02 145,343.5 C145.78,341.98 146.43,340.95 147.4,341.1 C148.37,341.25 149.78,342.73 150.8,344.4 C151.82,346.07 152.5,348.63 153.5,351.1 C154.5,353.57 155.68,356.28 156.8,359.2 C157.92,362.12 159.08,365.47 160.2,368.6 C161.32,371.73 162.38,374.85 163.5,378 C164.62,381.15 165.67,384.35 166.9,387.5 C168.13,390.65 169.55,393.98 170.9,396.9 C172.25,399.82 173.42,402.53 175,405 C176.58,407.47 178.38,409.92 180.4,411.7 C182.42,413.48 184.87,414.7 187.1,415.7 C189.33,416.7 191.65,417.13 193.8,417.7 C195.95,418.27 197.98,418.57 200,419.1 C202.02,419.63 202.9,420.03 205.9,420.9 C208.9,421.77 213.68,423 218,424.3 C222.32,425.6 226.63,427.12 231.8,428.7 C236.97,430.28 243.83,432.28 249,433.8 C254.17,435.32 258.27,436.72 262.8,437.8 C267.33,438.88 273.97,439.88 276.2,440.3" fill="none" stroke="#4c0aa6" stroke-width="2.3" />
<path d="M60.2,514.3 C62.3,513.83 69.5,512.75 72.8,511.5 C76.1,510.25 77.8,508.33 80,506.8 C82.2,505.27 84,504.53 86,502.3 C88,500.07 90.38,496.13 92,493.4 C93.62,490.67 94.58,488.65 95.7,485.9 C96.82,483.15 97.57,480.15 98.7,476.9 C99.83,473.65 101.25,469.9 102.5,466.4 C103.75,462.9 105.08,459.4 106.2,455.9 C107.32,452.4 108.2,448.63 109.2,445.4 C110.2,442.17 111.33,438.98 112.2,436.5 C113.07,434.02 113.4,432.88 114.4,430.5 C115.4,428.12 116.77,424.45 118.2,422.2 C119.63,419.95 121.27,419.03 123,417 C124.73,414.97 126.93,413 128.6,410 C130.27,407 131.6,403.17 133,399 C134.4,394.83 135.75,390.5 137,385 C138.25,379.5 139.33,371.83 140.5,366 C141.67,360.17 142.73,353.82 144,350 C145.27,346.18 146.52,342.47 148.1,343.1 C149.68,343.73 151.93,350.43 153.5,353.8 C155.07,357.17 156.05,359.7 157.5,363.3 C158.95,366.9 160.75,371.15 162.2,375.4 C163.65,379.65 164.85,384.77 166.2,388.8 C167.55,392.83 168.83,396.23 170.3,399.6 C171.77,402.97 173.32,406.2 175,409 C176.68,411.8 178.38,414.38 180.4,416.4 C182.42,418.42 184.87,419.98 187.1,421.1 C189.33,422.22 190.67,422.9 193.8,423.1 C196.93,423.3 202.45,422.52 205.9,422.3 C209.35,422.08 210.77,421.88 214.5,421.8 C218.23,421.72 224.27,421.52 228.3,421.8 C232.33,422.08 235.25,422.65 238.7,423.5 C242.15,424.35 244.98,425.47 249,426.9 C253.02,428.33 258.27,430.45 262.8,432.1 C267.33,433.75 273.97,436.02 276.2,436.8" fill="none" stroke="#d800d0" stroke-width="2.3" stroke-dasharray="0.01,3.7" stroke-linecap="round"/>
<path d="M29.3,611.6 C32.75,611.53 43.97,611.53 50,611.2 C56.03,610.87 59.67,610.68 65.5,609.6 C71.33,608.52 80.13,606.53 85,604.7 C89.87,602.87 92.37,600.72 94.7,598.6 C97.03,596.48 97.78,594.43 99,592 C100.22,589.57 101.08,587.17 102,584 C102.92,580.83 103.68,577.07 104.5,573 C105.32,568.93 106.07,564.27 106.9,559.6 C107.73,554.93 108.68,549.47 109.5,545 C110.32,540.53 110.82,536.25 111.8,532.8 C112.78,529.35 113.98,526.33 115.4,524.3 C116.82,522.27 118.87,521.57 120.3,520.6 C121.73,519.63 122.98,519.13 124,518.5 C125.02,517.87 125.33,518.52 126.4,516.8 C127.47,515.08 129.07,511.65 130.4,508.2 C131.73,504.75 133.05,500.58 134.4,496.1 C135.75,491.62 137.15,486.23 138.5,481.3 C139.85,476.37 141.27,470.2 142.5,466.5 C143.73,462.8 144.9,460.62 145.9,459.1 C146.9,457.58 147.5,457.07 148.5,457.4 C149.5,457.73 150.67,458.45 151.9,461.1 C153.13,463.75 154.55,469.03 155.9,473.3 C157.25,477.57 158.42,482 160,486.7 C161.58,491.4 163.38,496.57 165.4,501.5 C167.42,506.43 169.87,511.93 172.1,516.3 C174.33,520.67 177.02,525.45 178.8,527.7 C180.58,529.95 181.43,529.92 182.8,529.8 C184.17,529.68 185.55,528.52 187,527 C188.45,525.48 189.53,523.57 191.5,520.7 C193.47,517.83 196.77,512.15 198.8,509.8 C200.83,507.45 202.17,506.9 203.7,506.6 C205.23,506.3 206.38,507.07 208,508 C209.62,508.93 210.87,510.68 213.4,512.2 C215.93,513.72 219.53,515.27 223.2,517.1 C226.87,518.93 231.33,521.45 235.4,523.2 C239.47,524.95 243.53,526.18 247.6,527.6 C251.67,529.02 256.15,530.08 259.8,531.7 C263.45,533.32 266.77,536.08 269.5,537.3 C272.23,538.52 275.08,538.72 276.2,539" fill="none" stroke="#000" stroke-width="1.5" />
<path d="M29.3,611.6 C32.75,611.53 43.97,611.53 50,611.2 C56.03,610.87 59.67,610.68 65.5,609.6 C71.33,608.52 80.13,606.53 85,604.7 C89.87,602.87 92.37,600.72 94.7,598.6 C97.03,596.48 97.78,594.43 99,592 C100.22,589.57 101.08,587.17 102,584 C102.92,580.83 103.68,577.07 104.5,573 C105.32,568.93 106.07,564.27 106.9,559.6 C107.73,554.93 108.68,549.47 109.5,545 C110.32,540.53 110.82,536.25 111.8,532.8 C112.78,529.35 113.98,526.33 115.4,524.3 C116.82,522.27 118.87,521.57 120.3,520.6 C121.73,519.63 122.98,519.13 124,518.5 C125.02,517.87 125.33,518.52 126.4,516.8 C127.47,515.08 129.07,511.33 130.4,508.2 C131.73,505.07 133.05,501.8 134.4,498 C135.75,494.2 136.93,489.97 138.5,485.4 C140.07,480.83 142.47,473.63 143.8,470.6 C145.13,467.57 145.6,467.88 146.5,467.2 C147.4,466.52 148.28,466.37 149.2,466.5 C150.12,466.63 150.88,467.1 152,468 C153.12,468.9 154.35,468.57 155.9,471.9 C157.45,475.23 159.5,483.28 161.3,488 C163.1,492.72 164.9,496.38 166.7,500.2 C168.5,504.02 171.2,508.22 172.1,510.9 C173,513.58 170.98,513.5 172.1,516.3 C173.22,519.1 177.02,525.45 178.8,527.7 C180.58,529.95 181.43,529.92 182.8,529.8 C184.17,529.68 185.55,528.52 187,527 C188.45,525.48 189.53,523.57 191.5,520.7 C193.47,517.83 196.77,511.65 198.8,509.8 C200.83,507.95 202.17,509.4 203.7,509.6 C205.23,509.8 206.38,510.58 208,511 C209.62,511.42 210.87,511.21 213.4,512.12 C215.93,513.02 219.53,514.81 223.2,516.43 C226.87,518.04 231.33,520.29 235.4,521.8 C239.47,523.3 243.53,524.21 247.6,525.46 C251.67,526.71 256.15,527.73 259.8,529.3 C263.45,530.87 266.77,533.68 269.5,534.9 C272.23,536.12 275.08,536.32 276.2,536.6" fill="none" stroke="#1414e6" stroke-width="1.6" stroke-dasharray="2.6,3.4" />
<path d="M29.3,611.6 C32.75,611.53 43.97,611.53 50,611.2 C56.03,610.87 59.67,610.68 65.5,609.6 C71.33,608.52 80.13,606.53 85,604.7 C89.87,602.87 92.37,600.72 94.7,598.6 C97.03,596.48 97.78,594.43 99,592 C100.22,589.57 101.08,587.17 102,584 C102.92,580.83 103.68,577.07 104.5,573 C105.32,568.93 106.07,564.27 106.9,559.6 C107.73,554.93 108.68,549.47 109.5,545 C110.32,540.53 110.82,536.25 111.8,532.8 C112.78,529.35 113.98,526.33 115.4,524.3 C116.82,522.27 118.87,521.57 120.3,520.6 C121.73,519.63 122.98,519.13 124,518.5 C125.02,517.87 125.33,518.52 126.4,516.8 C127.47,515.08 129.07,510.83 130.4,508.2 C131.73,505.57 133.28,503.47 134.4,501 C135.52,498.53 135.75,496.9 137.1,493.4 C138.45,489.9 141.02,482.82 142.5,480 C143.98,477.18 144.88,477.28 146,476.5 C147.12,475.72 148.12,475.3 149.2,475.3 C150.28,475.3 151.15,475.5 152.5,476.5 C153.85,477.5 155.15,477.13 157.3,481.3 C159.45,485.47 162.93,495.67 165.4,501.5 C167.87,507.33 170.77,513.62 172.1,516.3 C173.43,518.98 172.28,515.7 173.4,517.6 C174.52,519.5 177.23,525.67 178.8,527.7 C180.37,529.73 181.43,529.92 182.8,529.8 C184.17,529.68 185.55,528.52 187,527 C188.45,525.48 189.53,523.57 191.5,520.7 C193.47,517.83 196.77,511.65 198.8,509.8 C200.83,507.95 202.17,509.4 203.7,509.6 C205.23,509.8 206.38,510.58 208,511 C209.62,511.42 210.87,511.21 213.4,512.12 C215.93,513.02 219.53,514.81 223.2,516.43 C226.87,518.04 231.33,520.29 235.4,521.8 C239.47,523.3 243.53,524.21 247.6,525.46 C251.67,526.71 256.15,527.73 259.8,529.3 C263.45,530.87 266.77,533.68 269.5,534.9 C272.23,536.12 275.08,536.32 276.2,536.6" fill="none" stroke="#ff1a1a" stroke-width="1.6" stroke-dasharray="4,3.5,1,3" />
<path d="M29.3,611.6 C32.75,611.53 43.97,611.53 50,611.2 C56.03,610.87 59.67,610.68 65.5,609.6 C71.33,608.52 80.13,606.53 85,604.7 C89.87,602.87 92.37,600.72 94.7,598.6 C97.03,596.48 97.78,594.43 99,592 C100.22,589.57 101.08,587.17 102,584 C102.92,580.83 103.68,577.07 104.5,573 C105.32,568.93 106.07,564.27 106.9,559.6 C107.73,554.93 108.68,549.47 109.5,545 C110.32,540.53 110.82,536.25 111.8,532.8 C112.78,529.35 113.98,526.33 115.4,524.3 C116.82,522.27 118.87,521.57 120.3,520.6 C121.73,519.63 122.98,519.13 124,518.5 C125.02,517.87 125.33,518.52 126.4,516.8 C127.47,515.08 129.07,511.08 130.4,508.2 C131.73,505.32 133.05,502.63 134.4,499.5 C135.75,496.37 136.93,493.33 138.5,489.4 C140.07,485.47 142.38,478.8 143.8,475.9 C145.22,473 145.98,472.78 147,472 C148.02,471.22 148.9,471.03 149.9,471.2 C150.9,471.37 151.77,471.53 153,473 C154.23,474.47 155.23,475.25 157.3,480 C159.37,484.75 162.93,495.45 165.4,501.5 C167.87,507.55 169.87,511.93 172.1,516.3 C174.33,520.67 177.02,525.45 178.8,527.7 C180.58,529.95 181.43,529.92 182.8,529.8 C184.17,529.68 185.55,528.52 187,527 C188.45,525.48 189.53,523.57 191.5,520.7 C193.47,517.83 196.77,511.65 198.8,509.8 C200.83,507.95 202.17,509.4 203.7,509.6 C205.23,509.8 206.38,510.58 208,511 C209.62,511.42 210.87,511.21 213.4,512.12 C215.93,513.02 219.53,514.81 223.2,516.43 C226.87,518.04 231.33,520.29 235.4,521.8 C239.47,523.3 243.53,524.21 247.6,525.46 C251.67,526.71 256.15,527.73 259.8,529.3 C263.45,530.87 266.77,533.68 269.5,534.9 C272.23,536.12 275.08,536.32 276.2,536.6" fill="none" stroke="#22c422" stroke-width="1.6" stroke-dasharray="6.6,3.1" />
<rect x="29.3" y="329.8" width="246.9" height="282.4" fill="none" stroke="#000" stroke-width="1.3"/>
<line x1="40.07" y1="612.2" x2="40.07" y2="605.7" stroke="#000" stroke-width="1.2" />
<line x1="40.07" y1="329.8" x2="40.07" y2="336.3" stroke="#000" stroke-width="1.2" />
<line x1="92.5" y1="612.2" x2="92.5" y2="605.7" stroke="#000" stroke-width="1.2" />
<line x1="92.5" y1="329.8" x2="92.5" y2="336.3" stroke="#000" stroke-width="1.2" />
<line x1="144.93" y1="612.2" x2="144.93" y2="605.7" stroke="#000" stroke-width="1.2" />
<line x1="144.93" y1="329.8" x2="144.93" y2="336.3" stroke="#000" stroke-width="1.2" />
<line x1="197.36" y1="612.2" x2="197.36" y2="605.7" stroke="#000" stroke-width="1.2" />
<line x1="197.36" y1="329.8" x2="197.36" y2="336.3" stroke="#000" stroke-width="1.2" />
<line x1="249.79" y1="612.2" x2="249.79" y2="605.7" stroke="#000" stroke-width="1.2" />
<line x1="249.79" y1="329.8" x2="249.79" y2="336.3" stroke="#000" stroke-width="1.2" />
<line x1="29.3" y1="612.2" x2="35.8" y2="612.2" stroke="#000" stroke-width="1.2" />
<line x1="276.2" y1="612.2" x2="269.7" y2="612.2" stroke="#000" stroke-width="1.2" />
<text x="25.2" y="618.7" font-size="18" text-anchor="end" fill="#000" font-weight="normal" font-style="normal" >0.0</text>
<line x1="29.3" y1="565.13" x2="35.8" y2="565.13" stroke="#000" stroke-width="1.2" />
<line x1="276.2" y1="565.13" x2="269.7" y2="565.13" stroke="#000" stroke-width="1.2" />
<text x="25.2" y="571.63" font-size="18" text-anchor="end" fill="#000" font-weight="normal" font-style="normal" >0.5</text>
<line x1="29.3" y1="518.07" x2="35.8" y2="518.07" stroke="#000" stroke-width="1.2" />
<line x1="276.2" y1="518.07" x2="269.7" y2="518.07" stroke="#000" stroke-width="1.2" />
<text x="25.2" y="524.57" font-size="18" text-anchor="end" fill="#000" font-weight="normal" font-style="normal" >1.0</text>
<line x1="29.3" y1="471.01" x2="35.8" y2="471.01" stroke="#000" stroke-width="1.2" />
<line x1="276.2" y1="471.01" x2="269.7" y2="471.01" stroke="#000" stroke-width="1.2" />
<text x="25.2" y="477.51" font-size="18" text-anchor="end" fill="#000" font-weight="normal" font-style="normal" >1.5</text>
<line x1="29.3" y1="423.94" x2="35.8" y2="423.94" stroke="#000" stroke-width="1.2" />
<line x1="276.2" y1="423.94" x2="269.7" y2="423.94" stroke="#000" stroke-width="1.2" />
<text x="25.2" y="430.44" font-size="18" text-anchor="end" fill="#000" font-weight="normal" font-style="normal" >2.0</text>
<line x1="29.3" y1="376.88" x2="35.8" y2="376.88" stroke="#000" stroke-width="1.2" />
<line x1="276.2" y1="376.88" x2="269.7" y2="376.88" stroke="#000" stroke-width="1.2" />
<text x="25.2" y="383.38" font-size="18" text-anchor="end" fill="#000" font-weight="normal" font-style="normal" >2.5</text>
<line x1="29.3" y1="329.81" x2="35.8" y2="329.81" stroke="#000" stroke-width="1.2" />
<line x1="276.2" y1="329.81" x2="269.7" y2="329.81" stroke="#000" stroke-width="1.2" />
<text x="25.2" y="336.31" font-size="18" text-anchor="end" fill="#000" font-weight="normal" font-style="normal" >3.0</text>
<text x="40.07" y="633.7" font-size="18" text-anchor="middle" fill="#000" font-weight="normal" font-style="normal" >-10</text>
<text x="92.5" y="633.7" font-size="18" text-anchor="middle" fill="#000" font-weight="normal" font-style="normal" >0</text>
<text x="144.93" y="633.7" font-size="18" text-anchor="middle" fill="#000" font-weight="normal" font-style="normal" >10</text>
<text x="197.36" y="633.7" font-size="18" text-anchor="middle" fill="#000" font-weight="normal" font-style="normal" >20</text>
<text x="249.79" y="633.7" font-size="18" text-anchor="middle" fill="#000" font-weight="normal" font-style="normal" >30</text>
<text x="152.7" y="665.2" font-size="18" text-anchor="middle" fill="#000" font-weight="normal" font-style="normal" letter-spacing="0.35">Energy (eV)</text>
<text x="40.1" y="356.4" font-size="28" text-anchor="start" fill="#000" font-weight="bold" font-style="normal" letter-spacing="0.8">c.</text>
<text x="181.4" y="355.4" font-size="18.1" text-anchor="start" fill="#ff0000" font-weight="normal" font-style="normal" letter-spacing="0.4">Zn K edge</text>
<line x1="39.2" y1="384.6" x2="66.8" y2="384.6" stroke="#4c0aa6" stroke-width="2.4" stroke-linecap="round"/>
<text x="73.8" y="389.2" font-size="15.2" text-anchor="start" fill="#000" font-weight="normal" font-style="normal" >[ZnO<tspan font-size="10.5" dy="4">4</tspan><tspan dy="-4">]</tspan></text>
<line x1="39.6" y1="410.5" x2="68" y2="410.5" stroke="#d800d0" stroke-width="2.3" stroke-dasharray="0.01,3.7" stroke-linecap="round"/>
<text x="73.8" y="415" font-size="15.2" text-anchor="start" fill="#000" font-weight="normal" font-style="normal" >[ZnO<tspan font-size="10.5" dy="4">3</tspan><tspan dy="-4">]</tspan></text>
<circle cx="121" cy="402.2" r="1.1" fill="#000"/><circle cx="124.6" cy="402.2" r="1.1" fill="#000"/>
<line x1="127.5" y1="544.2" x2="156.6" y2="544.2" stroke="#000" stroke-width="1.5" />
<text x="163.4" y="548.8" font-size="15.2" text-anchor="start" fill="#000" font-weight="normal" font-style="normal" ><tspan font-style="italic">Bulk</tspan>-ZnO</text>
<line x1="127.5" y1="561.7" x2="156.6" y2="561.7" stroke="#1414e6" stroke-width="1.6" stroke-dasharray="2.6,3.4" />
<text x="163.4" y="565.9" font-size="15.2" text-anchor="start" fill="#000" font-weight="normal" font-style="normal" >RMS-film</text>
<line x1="127.5" y1="578.7" x2="156.6" y2="578.7" stroke="#ff1a1a" stroke-width="1.6" stroke-dasharray="4,3.5,1,3" />
<text x="163.4" y="582.9" font-size="15.2" text-anchor="start" fill="#000" font-weight="normal" font-style="normal" >PLD-film</text>
<line x1="127.5" y1="595.7" x2="156.6" y2="595.7" stroke="#22c422" stroke-width="1.6" stroke-dasharray="6.6,3.1" />
<text x="163.4" y="600" font-size="15.2" text-anchor="start" fill="#000" font-weight="normal" font-style="normal" ><tspan font-style="italic">a</tspan>-PLD-film</text>
<line x1="331.1" y1="329.8" x2="331.1" y2="612.3" stroke="#a9a9ff" stroke-width="0.8" stroke-dasharray="1.5,2" />
<line x1="368.8" y1="329.8" x2="368.8" y2="612.3" stroke="#a9a9ff" stroke-width="0.8" stroke-dasharray="1.5,2" />
<line x1="406.5" y1="329.8" x2="406.5" y2="612.3" stroke="#a9a9ff" stroke-width="0.8" stroke-dasharray="1.5,2" />
<line x1="444.2" y1="329.8" x2="444.2" y2="612.3" stroke="#a9a9ff" stroke-width="0.8" stroke-dasharray="1.5,2" />
<line x1="481.9" y1="329.8" x2="481.9" y2="612.3" stroke="#a9a9ff" stroke-width="0.8" stroke-dasharray="1.5,2" />
<line x1="519.6" y1="329.8" x2="519.6" y2="612.3" stroke="#a9a9ff" stroke-width="0.8" stroke-dasharray="1.5,2" />
<line x1="323.9" y1="586.8" x2="557.5" y2="586.8" stroke="#a9a9ff" stroke-width="0.8" stroke-dasharray="1.5,2" />
<line x1="323.9" y1="522.55" x2="557.5" y2="522.55" stroke="#a9a9ff" stroke-width="0.8" stroke-dasharray="1.5,2" />
<line x1="323.9" y1="458.3" x2="557.5" y2="458.3" stroke="#a9a9ff" stroke-width="0.8" stroke-dasharray="1.5,2" />
<line x1="323.9" y1="394.05" x2="557.5" y2="394.05" stroke="#a9a9ff" stroke-width="0.8" stroke-dasharray="1.5,2" />
<path d="M474.6,392.6 C475.5,392.5 478.07,392.28 480,392 C481.93,391.72 484.2,391.37 486.2,390.9 C488.2,390.43 490.25,389.93 492,389.2 C493.75,388.47 495.2,387.7 496.7,386.5 C498.2,385.3 499.53,383.83 501,382 C502.47,380.17 504.17,377.67 505.5,375.5 C506.83,373.33 507.92,370.92 509,369 C510.08,367.08 510.88,365.53 512,364 C513.12,362.47 514.53,360.8 515.7,359.8 C516.87,358.8 518.07,358.43 519,358 C519.93,357.57 520.55,357.7 521.3,357.2 C522.05,356.7 522.7,356.28 523.5,355 C524.3,353.72 524.98,351.8 526.1,349.5 C527.22,347.2 529.03,343.15 530.2,341.2 C531.37,339.25 532.17,337.43 533.1,337.8 C534.03,338.17 534.78,337.23 535.8,343.4 C536.82,349.57 537.88,364.72 539.2,374.8 C540.52,384.88 542.48,397.2 543.7,403.9 C544.92,410.6 545.65,412.45 546.5,415 C547.35,417.55 548.05,419.03 548.8,419.2 C549.55,419.37 550.33,418.03 551,416 C551.67,413.97 552.13,411.33 552.8,407 C553.47,402.67 554.22,395.83 555,390 C555.78,384.17 557.08,375 557.5,372" fill="none" stroke="#000" stroke-width="1.4" />
<path d="M323.9,458.1 L380,457.2 L440,455.9 L470,454 L500,452.7 L513.4,450.9 L522.4,448.6 L529.1,447.5 L534.7,448.6 L538.1,453.1 L541.4,450.9 L544.8,452 L547.5,458 L549.5,462 L551.5,459 L553.4,458.1 L557.5,460.5" fill="none" stroke="#000" stroke-width="1.4" />
<path d="M470,455.5 L500,455.4 L522.4,450.9 L531.3,449.8 L535.8,454.2 L539.2,455.4 L542,454.5 L545,458 L548,463.5 L550,464.4 L553,461 L557.5,463.5" fill="none" stroke="#000" stroke-width="1.0" stroke-dasharray="1.2,1.3" />
<path d="M323.9,522.9 L380,522.4 L440,521.3 L517.8,521.2 L522.3,520.6 L525,518.5 L528,516.7 L532.6,521.3 L535,520.4 L538.3,520.6 L541.8,521.7 L545.6,517.6 L548.6,522.9 L554.3,526.3 L557.5,530.9" fill="none" stroke="#000" stroke-width="1.4" />
<line x1="323.9" y1="586.9" x2="521" y2="586.9" stroke="#000" stroke-width="2.2" />
<line x1="548.5" y1="586.9" x2="557.5" y2="586.9" stroke="#000" stroke-width="3.2" />
<path d="M519,586.8 L525.1,584.1 L533.2,582.9 L539,582.3 L543.6,580.6 L546.5,583.5 L549.4,585.8 L551.7,584.7 L556.3,584.7" fill="none" stroke="#000" stroke-width="1.1" />
<path d="M519,587 L525.1,589.3 L533.2,591 L539,592.2 L544.2,592.8 L547,589.3 L549.4,587.6 L551.7,588.7 L556.3,588.7" fill="none" stroke="#000" stroke-width="1.1" />
<line x1="543.1" y1="576" x2="546.3" y2="576" stroke="#000" stroke-width="0.8" />
<line x1="544.7" y1="574.4" x2="544.7" y2="577.6" stroke="#000" stroke-width="0.8" />
<line x1="539.1" y1="579.5" x2="542.3" y2="579.5" stroke="#000" stroke-width="0.8" />
<line x1="540.7" y1="577.9" x2="540.7" y2="581.1" stroke="#000" stroke-width="0.8" />
<line x1="528.1" y1="592.8" x2="531.3" y2="592.8" stroke="#000" stroke-width="0.8" />
<line x1="529.7" y1="591.2" x2="529.7" y2="594.4" stroke="#000" stroke-width="0.8" />
<line x1="536.2" y1="594.5" x2="539.4" y2="594.5" stroke="#000" stroke-width="0.8" />
<line x1="537.8" y1="592.9" x2="537.8" y2="596.1" stroke="#000" stroke-width="0.8" />
<line x1="539.7" y1="589.3" x2="542.9" y2="589.3" stroke="#000" stroke-width="0.8" />
<line x1="541.3" y1="587.7" x2="541.3" y2="590.9" stroke="#000" stroke-width="0.8" />
<line x1="542" y1="586.4" x2="545.2" y2="586.4" stroke="#000" stroke-width="0.8" />
<line x1="543.6" y1="584.8" x2="543.6" y2="588" stroke="#000" stroke-width="0.8" />
<line x1="530.4" y1="587.6" x2="533.6" y2="587.6" stroke="#000" stroke-width="0.8" />
<line x1="532" y1="586" x2="532" y2="589.2" stroke="#000" stroke-width="0.8" />
<line x1="525.4" y1="586" x2="528.6" y2="586" stroke="#000" stroke-width="0.8" />
<line x1="527" y1="584.4" x2="527" y2="587.6" stroke="#000" stroke-width="0.8" />
<line x1="534.4" y1="585" x2="537.6" y2="585" stroke="#000" stroke-width="0.8" />
<line x1="536" y1="583.4" x2="536" y2="586.6" stroke="#000" stroke-width="0.8" />
<line x1="543.4" y1="590" x2="546.6" y2="590" stroke="#000" stroke-width="0.8" />
<line x1="545" y1="588.4" x2="545" y2="591.6" stroke="#000" stroke-width="0.8" />
<line x1="548.4" y1="592" x2="551.6" y2="592" stroke="#000" stroke-width="0.8" />
<line x1="550" y1="590.4" x2="550" y2="593.6" stroke="#000" stroke-width="0.8" />
<line x1="553.4" y1="590" x2="556.6" y2="590" stroke="#000" stroke-width="0.8" />
<line x1="555" y1="588.4" x2="555" y2="591.6" stroke="#000" stroke-width="0.8" />
<line x1="551.4" y1="583" x2="554.6" y2="583" stroke="#000" stroke-width="0.8" />
<line x1="553" y1="581.4" x2="553" y2="584.6" stroke="#000" stroke-width="0.8" />
<line x1="536.4" y1="588" x2="539.6" y2="588" stroke="#000" stroke-width="0.8" />
<line x1="538" y1="586.4" x2="538" y2="589.6" stroke="#000" stroke-width="0.8" />
<line x1="529.4" y1="584" x2="532.6" y2="584" stroke="#000" stroke-width="0.8" />
<line x1="531" y1="582.4" x2="531" y2="585.6" stroke="#000" stroke-width="0.8" />
<path d="M323.9,586.5 C327.42,586.27 337.35,585.63 345,585.1 C352.65,584.57 360.63,583.82 369.8,583.3 C378.97,582.78 391.4,582.62 400,582 C408.6,581.38 414.28,580.48 421.4,579.6 C428.52,578.72 435.58,577.8 442.7,576.7 C449.82,575.6 457.7,574.32 464.1,573 C470.5,571.68 476.48,570.43 481.1,568.8 C485.72,567.17 488.58,565.33 491.8,563.2 C495.02,561.07 497.9,558.62 500.4,556 C502.9,553.38 505.03,550.17 506.8,547.5 C508.57,544.83 509.83,542.67 511,540 C512.17,537.33 512.7,535 513.8,531.5 C514.9,528 516.23,524.47 517.6,519 C518.97,513.53 520.68,505.5 522,498.7 C523.32,491.9 524.37,486.92 525.5,478.2 C526.63,469.48 527.88,456.18 528.8,446.4 C529.72,436.62 530.25,429.57 531,419.5 C531.75,409.43 532.55,397.18 533.3,386 C534.05,374.82 534.83,361.77 535.5,352.4 C536.17,343.03 537,333.57 537.3,329.8" fill="none" stroke="#1414e6" stroke-width="1.5" stroke-dasharray="2.6,3.4" />
<path d="M323.9,586.5 C327.42,586.22 337.35,585.47 345,584.8 C352.65,584.13 360.63,583.2 369.8,582.5 C378.97,581.8 391.4,581.35 400,580.6 C408.6,579.85 414.28,579.07 421.4,578 C428.52,576.93 435.58,575.73 442.7,574.2 C449.82,572.67 457.7,570.58 464.1,568.8 C470.5,567.02 476.48,565.27 481.1,563.5 C485.72,561.73 488.58,560.33 491.8,558.2 C495.02,556.07 497.55,553.73 500.4,550.7 C503.25,547.67 506.8,543.62 508.9,540 C511,536.38 511.73,533 513,529 C514.27,525 515.25,521.17 516.5,516 C517.75,510.83 519.15,504.33 520.5,498 C521.85,491.67 523.28,486.6 524.6,478 C525.92,469.4 527.4,456.15 528.4,446.4 C529.4,436.65 529.85,429.57 530.6,419.5 C531.35,409.43 532.15,397.18 532.9,386 C533.65,374.82 534.43,361.77 535.1,352.4 C535.77,343.03 536.6,333.57 536.9,329.8" fill="none" stroke="#ff1a1a" stroke-width="1.5" stroke-dasharray="4,3.5,1,3" />
<path d="M323.9,586.5 C327.42,586.25 337.35,585.62 345,585 C352.65,584.38 360.63,583.47 369.8,582.8 C378.97,582.13 391.4,581.72 400,581 C408.6,580.28 414.28,579.47 421.4,578.5 C428.52,577.53 435.58,576.62 442.7,575.2 C449.82,573.78 457.7,571.67 464.1,570 C470.5,568.33 476.48,566.9 481.1,565.2 C485.72,563.5 488.58,561.92 491.8,559.8 C495.02,557.68 497.7,555.47 500.4,552.5 C503.1,549.53 506.02,545.58 508,542 C509.98,538.42 510.83,535 512.3,531 C513.77,527 515.35,523.42 516.8,518 C518.25,512.58 519.63,505.13 521,498.5 C522.37,491.87 523.73,486.88 525,478.2 C526.27,469.52 527.63,456.18 528.6,446.4 C529.57,436.62 530.05,429.57 530.8,419.5 C531.55,409.43 532.35,397.18 533.1,386 C533.85,374.82 534.63,361.77 535.3,352.4 C535.97,343.03 536.8,333.57 537.1,329.8" fill="none" stroke="#22c422" stroke-width="1.5" stroke-dasharray="6.6,3.1" />
<path d="M323.9,586.5 C327.42,586.28 337.35,585.68 345,585.2 C352.65,584.72 360.63,584.08 369.8,583.6 C378.97,583.12 391.4,582.88 400,582.3 C408.6,581.72 414.28,580.92 421.4,580.1 C428.52,579.28 435.58,578.38 442.7,577.4 C449.82,576.42 457.7,575.45 464.1,574.2 C470.5,572.95 476.48,571.5 481.1,569.9 C485.72,568.3 488.58,566.73 491.8,564.6 C495.02,562.47 497.9,559.78 500.4,557.1 C502.9,554.42 505.03,551.17 506.8,548.5 C508.57,545.83 509.8,543.85 511,541.1 C512.2,538.35 512.87,535.6 514,532 C515.13,528.4 516.42,525.02 517.8,519.5 C519.18,513.98 520.97,505.77 522.3,498.9 C523.63,492.03 524.67,487.05 525.8,478.3 C526.93,469.55 528.18,456.2 529.1,446.4 C530.02,436.6 530.55,429.57 531.3,419.5 C532.05,409.43 532.85,397.18 533.6,386 C534.35,374.82 535.13,361.77 535.8,352.4 C536.47,343.03 537.3,333.57 537.6,329.8" fill="none" stroke="#000" stroke-width="1.4" />
<rect x="323.9" y="329.8" width="233.6" height="282.5" fill="none" stroke="#000" stroke-width="1.3"/>
<line x1="331.1" y1="612.3" x2="331.1" y2="605.8" stroke="#000" stroke-width="1.2" />
<line x1="331.1" y1="329.8" x2="331.1" y2="336.3" stroke="#000" stroke-width="1.2" />
<line x1="368.8" y1="612.3" x2="368.8" y2="605.8" stroke="#000" stroke-width="1.2" />
<line x1="368.8" y1="329.8" x2="368.8" y2="336.3" stroke="#000" stroke-width="1.2" />
<line x1="406.5" y1="612.3" x2="406.5" y2="605.8" stroke="#000" stroke-width="1.2" />
<line x1="406.5" y1="329.8" x2="406.5" y2="336.3" stroke="#000" stroke-width="1.2" />
<line x1="444.2" y1="612.3" x2="444.2" y2="605.8" stroke="#000" stroke-width="1.2" />
<line x1="444.2" y1="329.8" x2="444.2" y2="336.3" stroke="#000" stroke-width="1.2" />
<line x1="481.9" y1="612.3" x2="481.9" y2="605.8" stroke="#000" stroke-width="1.2" />
<line x1="481.9" y1="329.8" x2="481.9" y2="336.3" stroke="#000" stroke-width="1.2" />
<line x1="519.6" y1="612.3" x2="519.6" y2="605.8" stroke="#000" stroke-width="1.2" />
<line x1="519.6" y1="329.8" x2="519.6" y2="336.3" stroke="#000" stroke-width="1.2" />
<line x1="557.3" y1="612.3" x2="557.3" y2="605.8" stroke="#000" stroke-width="1.2" />
<line x1="557.3" y1="329.8" x2="557.3" y2="336.3" stroke="#000" stroke-width="1.2" />
<line x1="323.9" y1="586.8" x2="330.4" y2="586.8" stroke="#000" stroke-width="1.2" />
<line x1="557.5" y1="586.8" x2="551" y2="586.8" stroke="#000" stroke-width="1.2" />
<text x="318.9" y="593.3" font-size="18" text-anchor="end" fill="#000" font-weight="normal" font-style="normal" >0.0</text>
<line x1="323.9" y1="522.55" x2="330.4" y2="522.55" stroke="#000" stroke-width="1.2" />
<line x1="557.5" y1="522.55" x2="551" y2="522.55" stroke="#000" stroke-width="1.2" />
<text x="318.9" y="529.05" font-size="18" text-anchor="end" fill="#000" font-weight="normal" font-style="normal" >0.1</text>
<line x1="323.9" y1="458.3" x2="330.4" y2="458.3" stroke="#000" stroke-width="1.2" />
<line x1="557.5" y1="458.3" x2="551" y2="458.3" stroke="#000" stroke-width="1.2" />
<text x="318.9" y="464.8" font-size="18" text-anchor="end" fill="#000" font-weight="normal" font-style="normal" >0.2</text>
<line x1="323.9" y1="394.05" x2="330.4" y2="394.05" stroke="#000" stroke-width="1.2" />
<line x1="557.5" y1="394.05" x2="551" y2="394.05" stroke="#000" stroke-width="1.2" />
<text x="318.9" y="400.55" font-size="18" text-anchor="end" fill="#000" font-weight="normal" font-style="normal" >0.3</text>
<line x1="323.9" y1="329.8" x2="330.4" y2="329.8" stroke="#000" stroke-width="1.2" />
<line x1="557.5" y1="329.8" x2="551" y2="329.8" stroke="#000" stroke-width="1.2" />
<text x="318.9" y="336.3" font-size="18" text-anchor="end" fill="#000" font-weight="normal" font-style="normal" >0.4</text>
<text x="368.8" y="633.7" font-size="18" text-anchor="middle" fill="#000" font-weight="normal" font-style="normal" >-20</text>
<text x="444.2" y="633.7" font-size="18" text-anchor="middle" fill="#000" font-weight="normal" font-style="normal" >-10</text>
<text x="519.6" y="633.7" font-size="18" text-anchor="middle" fill="#000" font-weight="normal" font-style="normal" >0</text>
<text x="440.7" y="665.2" font-size="18" text-anchor="middle" fill="#000" font-weight="normal" font-style="normal" letter-spacing="0.35">Energy (eV)</text>
<text x="343.3" y="364" font-size="28" text-anchor="start" fill="#000" font-weight="bold" font-style="normal" letter-spacing="0.8">d.</text>
<text x="392.2" y="367.9" font-size="15.2" text-anchor="start" fill="#000" font-weight="normal" font-style="normal" >[ZnO<tspan font-size="10.5" dy="4">3</tspan><tspan dy="-4">]</tspan></text>
<circle cx="437" cy="354.3" r="1.1" fill="#000"/><circle cx="440.6" cy="354.3" r="1.1" fill="#000"/>
<text x="443" y="367.9" font-size="15.2" text-anchor="start" fill="#000" font-weight="normal" font-style="normal" >- [ZnO<tspan font-size="10.5" dy="4">4</tspan><tspan dy="-4">]</tspan></text>
<text x="329.2" y="447.7" font-size="15.2" text-anchor="start" fill="#000" font-weight="normal" font-style="normal" >PLD-film - ZnO</text>
<line x1="420.3" y1="469.1" x2="450.3" y2="469.1" stroke="#000" stroke-width="1.0" stroke-dasharray="1.2,1.3" />
<text x="454.9" y="474.2" font-size="15.2" text-anchor="start" fill="#000" font-weight="normal" font-style="normal" >Annealed</text>
<text x="328.6" y="511.5" font-size="15.2" text-anchor="start" fill="#000" font-weight="normal" font-style="normal" >RMS-film - ZnO</text>
<text x="504" y="580.6" font-size="15.5" text-anchor="start" fill="#000" font-weight="normal" font-style="normal" >&#963;</text>
<text x="499.8" y="605" font-size="15.5" text-anchor="start" fill="#000" font-weight="normal" font-style="normal" >-&#963;</text>
</svg>
</body></html>
